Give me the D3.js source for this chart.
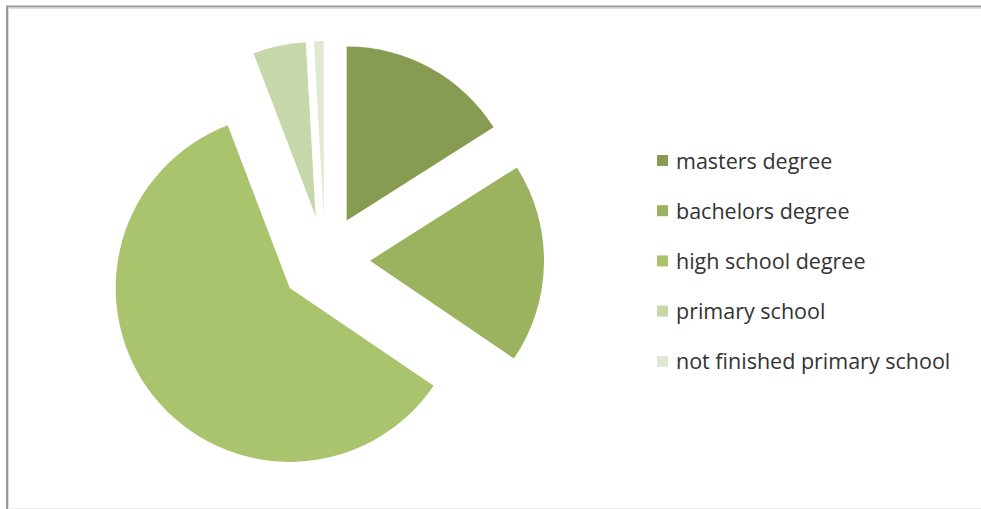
<!DOCTYPE html>
<html>
<head>
<meta charset="utf-8">
<script src="https://cdn.jsdelivr.net/npm/d3@7"></script>
<style>
  body { margin: 0; background: #fff; }
  svg { display: block; }
  .legend text { font-family: "Open Sans", Lato, sans-serif; font-size: 21.5px; fill: #333; }
</style>
</head>
<body>
<div id="chart"></div>
<script>
// education level shares (percent)
var categories = ["masters degree", "bachelors degree", "high school degree", "primary school", "not finished primary school"];
var values = [16.0, 18.5, 59.7, 4.9, 0.9];
var colors = ["#879b51", "#9bb35e", "#a9c46c", "#c6d7a9", "#dfe9d2"];

var width = 981, height = 509;
var radius = 174;
var explode = 45;

var svg = d3.select("#chart").append("svg")
    .attr("width", width)
    .attr("height", height);

// chart frame
svg.append("line").attr("x1", 6).attr("x2", width).attr("y1", 6.5).attr("y2", 6.5)
    .attr("stroke", "#9a9a9a").attr("stroke-width", 2);
svg.append("line").attr("x1", 7).attr("x2", width).attr("y1", 8.5).attr("y2", 8.5)
    .attr("stroke", "#dcdcdc").attr("stroke-width", 1);
svg.append("line").attr("x1", 7).attr("x2", 7).attr("y1", 6).attr("y2", height)
    .attr("stroke", "#9a9a9a").attr("stroke-width", 2);
svg.append("line").attr("x1", 8.5).attr("x2", 8.5).attr("y1", 8).attr("y2", height)
    .attr("stroke", "#dcdcdc").attr("stroke-width", 1);
svg.append("line").attr("x1", 8).attr("x2", width).attr("y1", 508.5).attr("y2", 508.5)
    .attr("stroke", "#efefef").attr("stroke-width", 1);

var color = d3.scaleOrdinal()
    .domain(categories)
    .range(colors);

var pie = d3.pie()
    .sort(null)
    .value(function(d) { return d.value; });

var arc = d3.arc()
    .innerRadius(0)
    .outerRadius(radius);

var data = categories.map(function(c, i) { return { name: c, value: values[i] }; });

var g = svg.append("g")
    .attr("transform", "translate(325,260)");

g.selectAll(".slice")
    .data(pie(data))
    .enter().append("path")
    .attr("class", "slice")
    .attr("d", arc)
    .attr("fill", function(d) { return color(d.data.name); })
    .attr("transform", function(d) {
        var mid = (d.startAngle + d.endAngle) / 2;
        return "translate(" + (explode * Math.sin(mid)) + "," + (-explode * Math.cos(mid)) + ")";
    });

// legend
var legend = svg.append("g")
    .attr("class", "legend")
    .attr("transform", "translate(657,161)");

var row = legend.selectAll(".row")
    .data(categories)
    .enter().append("g")
    .attr("class", "row")
    .attr("transform", function(d, i) { return "translate(0," + (i * 50.2) + ")"; });

row.append("rect")
    .attr("x", 0)
    .attr("y", -6)
    .attr("width", 11)
    .attr("height", 11)
    .attr("fill", function(d) { return color(d); });

row.append("text")
    .attr("x", 19)
    .attr("dy", "0.35em")
    .text(function(d) { return d; });
</script>
</body>
</html>
